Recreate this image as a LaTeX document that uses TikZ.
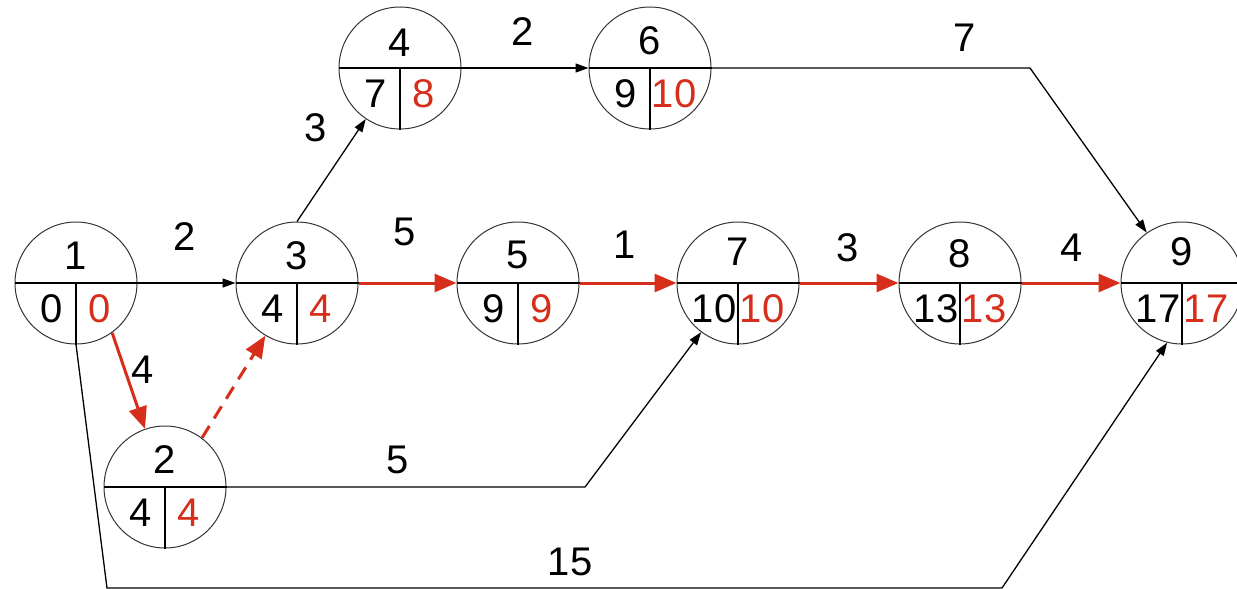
\documentclass[tikz,border=0pt]{standalone}
\usepackage{fontspec}
\setmainfont{Liberation Sans}
\usetikzlibrary{arrows.meta}
\definecolor{cpred}{RGB}{214,46,26}
\begin{document}
\begin{tikzpicture}[x=1pt,y=-1pt,
  event/.style={circle,draw=black!80,line width=1pt,minimum size=122pt,inner sep=0pt},
  num/.style={inner sep=0pt,font=\fontsize{40}{44}\selectfont},
  late/.style={num,text=cpred},
  act/.style={black,line width=1.3pt,-{Triangle[length=13pt,width=9pt]}},
  crit/.style={cpred,line width=3pt,-{Triangle[length=22pt,width=18pt]}},
  dummy/.style={crit,dash pattern=on 14pt off 9pt},
]
\useasboundingbox (0,0) rectangle (1237,589);
\foreach \n/\x/\y/\t/\e/\l in {1/76/283/27/0/0, 2/165/487/27/4/4, 3/297/283/27/4/4, 4/400/68/25/7/8, 5/518/283/28/9/9, 6/650/68/27/9/10, 7/738/283/31/10/10, 8/960/283/29/13/13, 9/1182/283/31/17/17} {
  \node[event] (e\n) at (\x,\y) {};
  \draw[line width=1.3pt] (e\n.west) -- (e\n.east) (e\n.center) -- (e\n.south);
  \node[num] (t\n) at (\x,\y-\t) {\n};
  \node[num] (s\n) at (\x-24,\y+26) {\e};
  \node[late] (f\n) at (\x+24,\y+26) {\l};
}
% black activities
\draw[act] (e1.east) -- (e3.west);
\draw[act] (e3.north) -- (e4);
\draw[act] (e4.east) -- (e6.west);
\coordinate (b69) at (1030,68);
\draw[act] (e6.east) -- (b69) -- (e9.125);
\coordinate (b27) at (585,487);
\draw[act] (e2.east) -- (b27) -- (e7);
\coordinate (b19a) at (107,588);
\coordinate (b19b) at (1002,588);
\draw[act] (e1.south) -- (b19a) -- (b19b) -- (e9.-104);
% critical path
\draw[crit] (e1.-54) -- (e2.109);
\draw[dummy] (e2.53) -- (e3.-121);
\draw[crit] (e3.east) -- (e5.west);
\draw[crit] (e5.east) -- (e7.west);
\draw[crit] (e7.east) -- (e8.west);
\draw[crit] (e8.east) -- (e9.west);
% durations
\node[num] (d13) at (185,237) {2};
\node[num] (d35) at (405,232) {5};
\node[num] (d57) at (625,245) {1};
\node[num] (d78) at (848,248) {3};
\node[num] (d89) at (1072,248) {4};
\node[num] (d34) at (316,128) {3};
\node[num] (d46) at (523,32) {2};
\node[num] (d69) at (965,38) {7};
\node[num] (d12) at (143,370) {4};
\node[num] (d27) at (398,460) {5};
\node[num] (d19) at (570,562) {15};
\end{tikzpicture}
\end{document}
